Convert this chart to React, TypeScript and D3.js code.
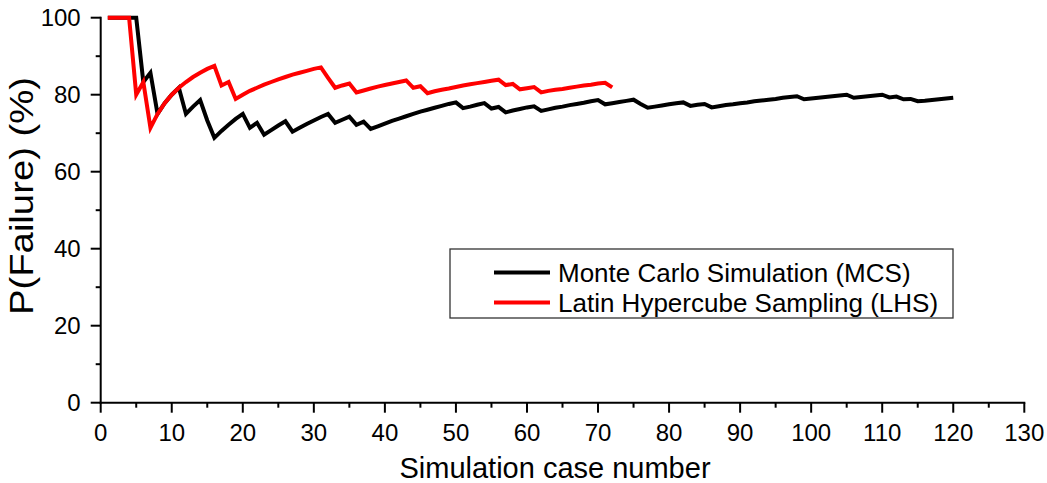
import React from "react";
import * as d3 from "d3";

// P(Failure) (%) after each simulation case
const mcsPercent: number[] = [
  100, 100, 100, 100, 100, 83.3, 85.7, 75.0, 77.8, 80.0,
  81.8, 75.0, 76.9, 78.6, 73.3, 68.8, 70.6, 72.2, 73.7, 75.0,
  71.4, 72.7, 69.6, 70.8, 72.0, 73.1, 70.4, 71.4, 72.4, 73.3,
  74.2, 75.0, 72.7, 73.5, 74.3, 72.2, 73.0, 71.1, 71.8, 72.5,
  73.2, 73.8, 74.4, 75.0, 75.6, 76.1, 76.6, 77.1, 77.6, 78.0,
  76.5, 76.9, 77.4, 77.8, 76.4, 76.8, 75.4, 75.9, 76.3, 76.7,
  77.0, 75.8, 76.2, 76.6, 76.9, 77.3, 77.6, 77.9, 78.3, 78.6,
  77.5, 77.8, 78.1, 78.4, 78.7, 77.6, 76.6, 76.9, 77.2, 77.5,
  77.8, 78.0, 77.1, 77.4, 77.6, 76.7, 77.0, 77.3, 77.5, 77.8,
  78.0, 78.3, 78.5, 78.7, 78.9, 79.2, 79.4, 79.6, 78.8, 79.0,
  79.2, 79.4, 79.6, 79.8, 80.0, 79.2, 79.4, 79.6, 79.8, 80.0,
  79.3, 79.5, 78.8, 78.9, 78.3, 78.4, 78.6, 78.8, 79.0, 79.2,
];

const lhsPercent: number[] = [
  100, 100, 100, 100, 80.0, 83.3, 71.4, 75.0, 77.8, 80.0,
  81.8, 83.3, 84.6, 85.7, 86.7, 87.5, 82.4, 83.3, 78.9, 80.0,
  81.0, 81.8, 82.6, 83.3, 84.0, 84.6, 85.2, 85.7, 86.2, 86.7,
  87.1, 84.4, 81.8, 82.4, 82.9, 80.6, 81.1, 81.6, 82.1, 82.5,
  82.9, 83.3, 83.7, 81.8, 82.2, 80.4, 80.9, 81.3, 81.6, 82.0,
  82.4, 82.7, 83.0, 83.3, 83.6, 83.9, 82.5, 82.8, 81.4, 81.7,
  82.0, 80.6, 81.0, 81.3, 81.5, 81.8, 82.1, 82.4, 82.6, 82.9,
  83.1, 81.9,
];

const xTickValues = [0, 10, 20, 30, 40, 50, 60, 70, 80, 90, 100, 110, 120, 130];
const xMinorTickValues = [5, 15, 25, 35, 45, 55, 65, 75, 85, 95, 105, 115, 125];
const yTickValues = [0, 20, 40, 60, 80, 100];
const yMinorTickValues = [10, 30, 50, 70, 90];

const seriesNames = ["Monte Carlo Simulation (MCS)", "Latin Hypercube Sampling (LHS)"];
const seriesColors = ["#000000", "#ff0000"];

const xTitle = "Simulation case number";
const yTitle = "P(Failure) (%)";

const FONT = "Arial, 'Liberation Sans', sans-serif";

export default function App() {
  const W = 1047;
  const H = 483;
  const x = d3.scaleLinear().domain([0, 130]).range([100.7, 1024.3]);
  const y = d3.scaleLinear().domain([0, 100]).range([402.7, 17.7]);
  const line = d3
    .line<number>()
    .x((_d, i) => x(i + 1))
    .y((d) => y(d));

  const series = [mcsPercent, lhsPercent];
  const x0 = x(0);
  const y0 = y(0);
  const majorLen = 10;
  const minorLen = 5;

  const legend = { x: 450, y: 249, w: 503, h: 69 };
  const legendRows = [272.5, 302.5];

  return (
    <svg
      width={W}
      height={H}
      style={{ position: "absolute", left: 0, top: 0, background: "#fff" }}
      fontFamily={FONT}
    >
      <rect x={0} y={0} width={W} height={H} fill="#fff" />
      {series.map((s, i) => (
        <path
          key={i}
          d={line(s) || ""}
          fill="none"
          stroke={seriesColors[i]}
          strokeWidth={4}
          strokeLinejoin="miter"
          strokeMiterlimit={4}
        />
      ))}
      <g stroke="#000" strokeWidth={2} fill="none">
        <line x1={x0} x2={x0} y1={y(100) - 1} y2={y0 + 1} />
        <line x1={x0 - 1} x2={x(130) + 1} y1={y0} y2={y0} />
        {xTickValues.map((t) => (
          <line key={"xt" + t} x1={x(t)} x2={x(t)} y1={y0} y2={y0 + majorLen} />
        ))}
        {xMinorTickValues.map((t) => (
          <line key={"xm" + t} x1={x(t)} x2={x(t)} y1={y0} y2={y0 + minorLen} />
        ))}
        {yTickValues.map((t) => (
          <line key={"yt" + t} x1={x0 - majorLen} x2={x0} y1={y(t)} y2={y(t)} />
        ))}
        {yMinorTickValues.map((t) => (
          <line key={"ym" + t} x1={x0 - minorLen} x2={x0} y1={y(t)} y2={y(t)} />
        ))}
      </g>
      <g fontSize={24} fill="#000">
        {xTickValues.map((t) => (
          <text key={"xl" + t} x={x(t)} y={y0 + majorLen + 11} dy="0.71em" textAnchor="middle">
            {t}
          </text>
        ))}
        {yTickValues.map((t) => (
          <text key={"yl" + t} x={x0 - majorLen - 10} y={y(t)} dy="0.35em" textAnchor="end">
            {t}
          </text>
        ))}
      </g>
      <text x={555} y={478} fontSize={29} textAnchor="middle" fill="#000">
        {xTitle}
      </text>
      <text
        transform={`translate(33,196) rotate(-90)`}
        fontSize={33}
        textAnchor="middle"
        textLength={238}
        lengthAdjust="spacingAndGlyphs"
        fill="#000"
      >
        {yTitle}
      </text>
      <rect
        x={legend.x}
        y={legend.y}
        width={legend.w}
        height={legend.h}
        fill="#fff"
        stroke="#333"
        strokeWidth={1.3}
      />
      {seriesNames.map((n, i) => (
        <g key={n}>
          <line
            x1={494}
            x2={550}
            y1={legendRows[i]}
            y2={legendRows[i]}
            stroke={seriesColors[i]}
            strokeWidth={4}
          />
          <text x={558} y={legendRows[i]} dy="0.35em" fontSize={26} fill="#000">
            {n}
          </text>
        </g>
      ))}
    </svg>
  );
}
